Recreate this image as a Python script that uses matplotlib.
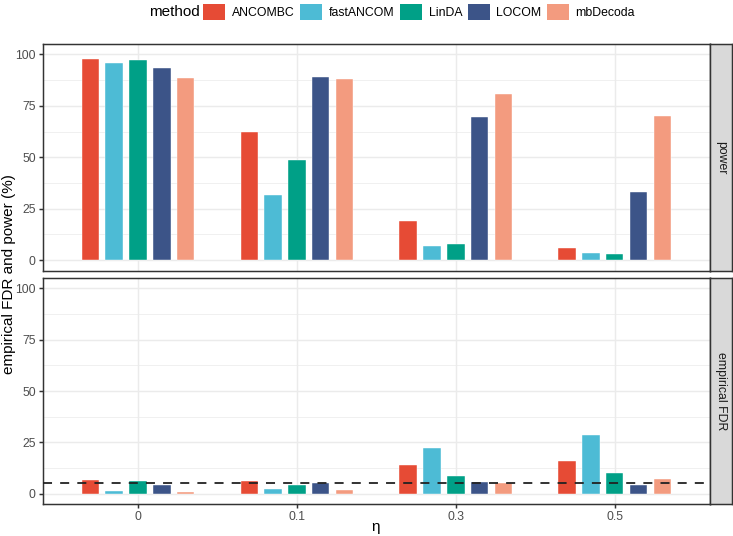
import matplotlib
matplotlib.use("Agg")
import matplotlib.pyplot as plt
import numpy as np
from matplotlib.patches import Patch

plt.rcParams['font.family'] = ['Liberation Sans', 'DejaVu Sans']

# ---- data ----
eta_labels = ["0", "0.1", "0.3", "0.5"]
methods = ["ANCOMBC", "fastANCOM", "LinDA", "LOCOM", "mbDecoda"]
colors = ["#E64B35", "#4DBBD5", "#00A087", "#3C5488", "#F39B7F"]

power_ANCOMBC = [97.8, 62.3, 18.8, 5.9]
power_fastANCOM = [95.8, 31.6, 6.7, 3.7]
power_LinDA = [97.2, 48.8, 8.0, 2.8]
power_LOCOM = [93.5, 88.9, 69.6, 33.0]
power_mbDecoda = [88.5, 87.9, 80.7, 69.8]

fdr_ANCOMBC = [6.6, 6.2, 14.0, 16.0]
fdr_fastANCOM = [1.3, 2.4, 22.2, 28.6]
fdr_LinDA = [6.2, 4.4, 8.5, 10.3]
fdr_LOCOM = [4.4, 5.1, 5.9, 4.3]
fdr_mbDecoda = [0.8, 1.9, 5.1, 7.0]

fdr_target = 5
y_ticks = [0, 25, 50, 75, 100]
panel_labels = ["power", "empirical FDR"]

power = [power_ANCOMBC, power_fastANCOM, power_LinDA, power_LOCOM, power_mbDecoda]
fdr = [fdr_ANCOMBC, fdr_fastANCOM, fdr_LinDA, fdr_LOCOM, fdr_mbDecoda]

# ---- figure ----
W, H = 733, 536
fig = plt.figure(figsize=(W / 100, H / 100), dpi=100)

left_px, right_px = 42.7, 710
panels_px = [(44, 270.5), (278, 504)]
grey20 = "#333333"
grey30 = "#4D4D4D"

axes = []
for (top, bot) in panels_px:
    ax = fig.add_axes([left_px / W, 1 - bot / H, (right_px - left_px) / W, (bot - top) / H])
    axes.append(ax)

x = np.arange(len(eta_labels)) + 1
pitch = 0.15
bw = 0.11

for k, (ax, data) in enumerate(zip(axes, [power, fdr])):
    ax.set_xlim(0.4, 4.6)
    ax.set_ylim(-5, 105)
    for yv in y_ticks:
        ax.axhline(yv, color="#EBEBEB", lw=1.07, zorder=0)
    for yv in [12.5, 37.5, 62.5, 87.5]:
        ax.axhline(yv, color="#EBEBEB", lw=0.53, zorder=0)
    for xv in x:
        ax.axvline(xv, color="#EBEBEB", lw=1.07, zorder=0)
    for i, (m, c) in enumerate(zip(methods, colors)):
        ax.bar(x + (i - 2) * pitch, data[i], width=bw, color=c, zorder=2, label=m,
               edgecolor="white", linewidth=0.3)
    ax.set_yticks(y_ticks)
    ax.set_yticklabels([str(v) for v in y_ticks])
    ax.tick_params(axis='y', colors=grey20, labelcolor=grey30, labelsize=8.8,
                   length=2.75, width=1.07, pad=2.2)
    if k == 0:
        ax.set_xticks([])
    else:
        ax.set_xticks(x)
        ax.set_xticklabels(eta_labels)
        ax.tick_params(axis='x', colors=grey20, labelcolor=grey30, labelsize=8.8,
                       length=2.75, width=1.07, pad=2.2)
    for s in ax.spines.values():
        s.set_color(grey20)
        s.set_linewidth(1.07)
    top, bot = panels_px[k]
    sx = fig.add_axes([right_px / W, 1 - bot / H, (731.5 - right_px) / W, (bot - top) / H])
    sx.set_xticks([]); sx.set_yticks([])
    sx.set_facecolor("#D9D9D9")
    for s in sx.spines.values():
        s.set_color(grey20)
        s.set_linewidth(1.07)
    sx.text(0.5, 0.5, panel_labels[k], rotation=270, ha='center', va='center',
            fontsize=8.8, color="#1A1A1A", transform=sx.transAxes)

axes[1].axhline(fdr_target, color="#222222", lw=1.3, linestyle=(0, (5, 4.5)), zorder=3)

fig.text(9 / W, 1 - 274 / H, "empirical FDR and power (%)", rotation=90,
         ha='center', va='center', fontsize=11, color='black')
fig.text(376 / W, 1 - 527 / H, "η", ha='center', va='center', fontsize=11, color='black')

handles = [Patch(facecolor=c, edgecolor='none', label=m) for m, c in zip(methods, colors)]
fig.text(149 / W, 1 - 12 / H, "method", ha='left', va='center', fontsize=11)
fig.legend(handles=handles, loc='center left', bbox_to_anchor=(203 / W, 1 - 12 / H),
           ncol=5, frameon=False, fontsize=8.8, handlelength=1.8, handleheight=1.75,
           handletextpad=0.55, columnspacing=0.45, borderpad=0, borderaxespad=0)

fig.savefig("out.png", dpi=100)
